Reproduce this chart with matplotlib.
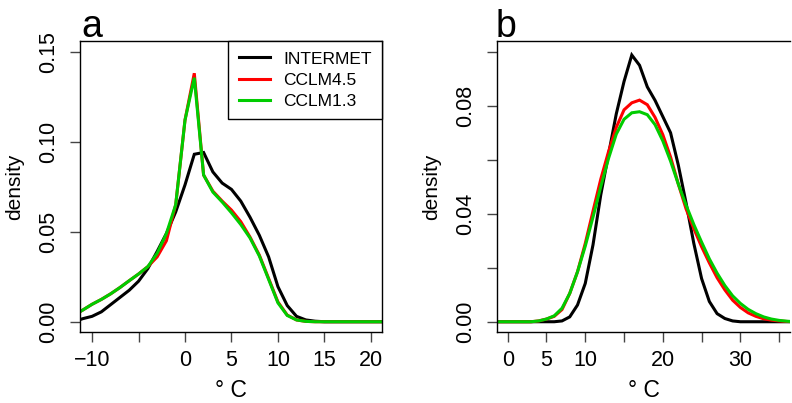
import numpy as np
import matplotlib
matplotlib.use('Agg')
import matplotlib.pyplot as plt

plt.rcParams['font.family'] = ['Liberation Sans', 'DejaVu Sans']

## panel a: temperature grid (deg C) and densities
temp_a = [-12, -11, -10, -9, -8, -7, -6, -5, -4, -3, -2, -1, 0, 1, 2, 3, 4, 5,
          6, 7, 8, 9, 10, 11, 12, 13, 14, 15, 16, 17, 18, 19, 20, 21, 22]
intermet_a = [0.0, 0.0017, 0.003, 0.0055, 0.0095, 0.0135, 0.0175, 0.0225,
              0.0295, 0.039, 0.049, 0.061, 0.076, 0.093, 0.094, 0.0832, 0.077,
              0.0735, 0.067, 0.058, 0.048, 0.036, 0.0195, 0.009, 0.003, 0.001,
              0.0003, 0.0, 0.0, 0.0, 0.0, 0.0, 0.0, 0.0, 0.0]
cclm45_a = [0.0035, 0.0065, 0.0097, 0.0124, 0.0155, 0.019, 0.0228, 0.0265,
            0.0306, 0.036, 0.045, 0.065, 0.112, 0.138, 0.0815, 0.0725, 0.067,
            0.062, 0.0556, 0.047, 0.037, 0.024, 0.011, 0.0037, 0.001, 0.0002,
            0.0, 0.0, 0.0, 0.0, 0.0, 0.0, 0.0, 0.0, 0.0]
cclm13_a = [0.0035, 0.0065, 0.0097, 0.0124, 0.0155, 0.019, 0.0228, 0.0265,
            0.0306, 0.038, 0.049, 0.065, 0.112, 0.1355, 0.0815, 0.072, 0.0665,
            0.0605, 0.054, 0.0465, 0.0365, 0.0235, 0.0105, 0.0035, 0.001,
            0.0002, 0.0, 0.0, 0.0, 0.0, 0.0, 0.0, 0.0, 0.0, 0.0]

## panel b
temp_b = [-2, -1, 0, 1, 2, 3, 4, 5, 6, 7, 8, 9, 10, 11, 12, 13, 14, 15, 16, 17,
          18, 19, 20, 21, 22, 23, 24, 25, 26, 27, 28, 29, 30, 31, 32, 33, 34,
          35, 36, 37]
intermet_b = [0.0, 0.0, 0.0, 0.0, 0.0, 0.0, 0.0, 0.0, 0.0, 0.0003, 0.0018,
              0.0062, 0.0142, 0.0285, 0.047, 0.062, 0.077, 0.089, 0.0988,
              0.095, 0.087, 0.082, 0.076, 0.070, 0.058, 0.044, 0.029, 0.016,
              0.0075, 0.003, 0.0012, 0.0003, 0.0, 0.0, 0.0, 0.0, 0.0, 0.0,
              0.0, 0.0]
cclm45_b = [0.0, 0.0, 0.0, 0.0, 0.0, 0.0, 0.0003, 0.001, 0.002, 0.0045,
            0.0105, 0.0185, 0.029, 0.041, 0.0528, 0.063, 0.072, 0.0785,
            0.0811, 0.0821, 0.0804, 0.0757, 0.0693, 0.061, 0.051, 0.0418,
            0.0345, 0.0278, 0.0218, 0.0163, 0.0118, 0.008, 0.0053, 0.0033,
            0.002, 0.0011, 0.0006, 0.0003, 0.0001, 0.0]
cclm13_b = [0.0, 0.0, 0.0, 0.0, 0.0, 0.0, 0.0003, 0.001, 0.0022, 0.005,
            0.0105, 0.0185, 0.028, 0.0388, 0.050, 0.0605, 0.0695, 0.075,
            0.0774, 0.0778, 0.0767, 0.073, 0.067, 0.0595, 0.051, 0.0432,
            0.036, 0.0295, 0.0233, 0.018, 0.0134, 0.0096, 0.0068, 0.0046,
            0.003, 0.0018, 0.001, 0.0005, 0.0002, 0.0]

labels = ['INTERMET', 'CCLM4.5', 'CCLM1.3']
colors = ['black', '#ff0000', '#00cc00']

xticks_a = [-10, -5, 0, 5, 10, 15, 20]
xticklabels_a = ['\u221210', '', '0', '5', '10', '15', '20']
yticks_a = [0.0, 0.05, 0.10, 0.15]
yticklabels_a = ['0.00', '0.05', '0.10', '0.15']
xticks_b = [0, 5, 10, 15, 20, 25, 30, 35]
xticklabels_b = ['0', '5', '10', '', '20', '', '30', '']
yticks_b = [0.0, 0.02, 0.04, 0.06, 0.08, 0.10]
yticklabels_b = ['0.00', '', '0.04', '', '0.08', '']

fig = plt.figure(figsize=(7.92, 4.03), dpi=100)
ax_a = fig.add_axes([80/792, 71/403, 302/792, 291/403])
ax_b = fig.add_axes([497/792, 71/403, 293/792, 291/403])

lw = 2.2
for ax, t, series in [(ax_a, temp_a, [intermet_a, cclm45_a, cclm13_a]),
                      (ax_b, temp_b, [intermet_b, cclm45_b, cclm13_b])]:
    for s, c, l in zip(series, colors, labels):
        ax.plot(t, s, color=c, lw=lw, label=l, solid_joinstyle='miter')

ax_a.set_xlim(-11.3, 21.2)
ax_a.set_ylim(-0.0057, 0.1559)
ax_b.set_xlim(-1.38, 36.4)
ax_b.set_ylim(-0.0038, 0.104)

for ax, xt, xl, yt, yl in [(ax_a, xticks_a, xticklabels_a, yticks_a, yticklabels_a),
                           (ax_b, xticks_b, xticklabels_b, yticks_b, yticklabels_b)]:
    ax.set_xticks(xt)
    ax.set_xticklabels(xl)
    ax.set_yticks(yt)
    ax.set_yticklabels(yl, rotation=90, va='center')
    ax.tick_params(axis='both', direction='out', length=7, width=1,
                   color='#444444', labelsize=15.5)
    ax.tick_params(axis='x', pad=6)
    ax.tick_params(axis='y', pad=8)
    for sp in ax.spines.values():
        sp.set_linewidth(1)
        sp.set_color('black')
    ax.set_ylabel('density', fontsize=15, labelpad=10)
    ax.set_xlabel('\u00b0 C', fontsize=16.5, labelpad=6)

ax_b.spines['right'].set_visible(False)

fig.text(81/792, 1 - 37/403, 'a', fontsize=27, ha='left', va='baseline')
fig.text(496/792, 1 - 37/403, 'b', fontsize=27, ha='left', va='baseline')

leg = ax_a.legend(loc='upper right', borderaxespad=0, fontsize=12.5,
                  handlelength=1.8, handletextpad=0.75, labelspacing=0.35,
                  borderpad=0.6, fancybox=False, framealpha=1,
                  edgecolor='black')
leg.get_frame().set_linewidth(1)

fig.savefig('out.png', dpi=100)
